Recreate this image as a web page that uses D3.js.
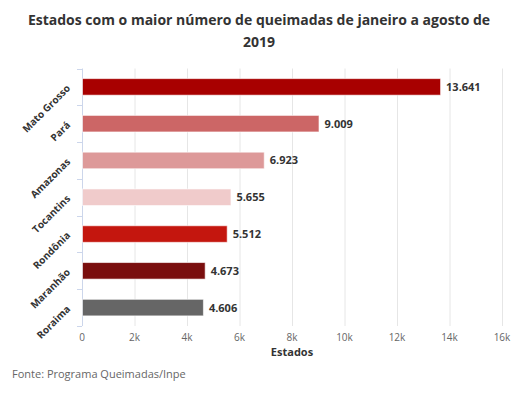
<!DOCTYPE html>
<html>
<head>
<meta charset="utf-8">
<script src="https://cdn.jsdelivr.net/npm/d3@7"></script>
<style>
  body { margin: 0; background: #fff; }
  svg { font-family: "Open Sans", sans-serif; display: block; }
</style>
</head>
<body>
<svg id="chart"></svg>
<script>
const states = ["Mato Grosso", "Pará", "Amazonas", "Tocantins", "Rondônia", "Maranhão", "Roraima"]
const fires = [13641, 9009, 6923, 5655, 5512, 4673, 4606]
const barColors = ["#a80000", "#cc6666", "#dd9999", "#f0cbcb", "#c4160e", "#7a0e0e", "#666666"]
const xTicks = [0, 2000, 4000, 6000, 8000, 10000, 12000, 14000, 16000]

const width = 518, height = 396
const margin = { top: 68.5, right: 16, bottom: 70, left: 82 }

const svg = d3.select("#chart")
  .attr("width", width)
  .attr("height", height)

// title
svg.append("text")
  .attr("x", width / 2)
  .attr("y", 25)
  .attr("text-anchor", "middle")
  .attr("font-size", 14)
  .attr("font-weight", "bold")
  .attr("fill", "#333")
  .selectAll("tspan")
  .data(["Estados com o maior número de queimadas de janeiro a agosto de", "2019"])
  .join("tspan")
  .attr("x", width / 2)
  .attr("dy", (d, i) => i ? 22 : 0)
  .text(d => d)

const x = d3.scaleLinear()
  .domain([0, 16000])
  .range([margin.left, width - margin.right])

const y = d3.scaleBand()
  .domain(states)
  .range([margin.top, height - margin.bottom])
  .paddingInner(0.55)
  .paddingOuter(0.275)

// vertical grid lines
svg.append("g")
  .selectAll("line")
  .data(xTicks.slice(1))
  .join("line")
  .attr("x1", d => x(d) + 0.5)
  .attr("x2", d => x(d) + 0.5)
  .attr("y1", margin.top)
  .attr("y2", height - margin.bottom)
  .attr("stroke", "#e6e6e6")

// y axis line + ticks
const yAxis = svg.append("g")
yAxis.append("line")
  .attr("x1", margin.left + 0.5)
  .attr("x2", margin.left + 0.5)
  .attr("y1", margin.top)
  .attr("y2", height - margin.bottom)
  .attr("stroke", "#ccd6eb")
const bounds = states.map(s => y(s) - y.step() * y.paddingInner() / 2)
bounds.push(height - margin.bottom)
yAxis.selectAll("line.tick")
  .data(bounds)
  .join("line")
  .attr("class", "tick")
  .attr("x1", margin.left - 5)
  .attr("x2", margin.left)
  .attr("y1", d => Math.round(d) + 0.5)
  .attr("y2", d => Math.round(d) + 0.5)
  .attr("stroke", "#ccd6eb")

yAxis.selectAll("text")
  .data(states)
  .join("text")
  .attr("transform", d => `translate(${margin.left - 11},${y(d) + y.bandwidth() / 2 + 2}) rotate(-45)`)
  .attr("text-anchor", "end")
  .attr("font-size", 10)
  .attr("font-weight", "bold")
  .attr("fill", "#333")
  .text(d => d)

// bars
svg.append("g")
  .selectAll("rect")
  .data(states)
  .join("rect")
  .attr("x", x(0) + 0.5)
  .attr("y", d => y(d))
  .attr("width", (d, i) => x(fires[i]) - x(0))
  .attr("height", y.bandwidth())
  .attr("fill", (d, i) => barColors[i])
  .attr("stroke", "#fff")
  .attr("stroke-opacity", 0.6)

// value labels
const fmt = d3.formatLocale({ decimal: ",", thousands: ".", grouping: [3] }).format(",")
svg.append("g")
  .selectAll("text")
  .data(states)
  .join("text")
  .attr("x", (d, i) => x(fires[i]) + 6)
  .attr("y", d => y(d) + y.bandwidth() / 2 + 4)
  .attr("font-size", 11)
  .attr("font-weight", "bold")
  .attr("fill", "#333")
  .text((d, i) => fmt(fires[i]))

// x axis labels
svg.append("g")
  .selectAll("text")
  .data(xTicks)
  .join("text")
  .attr("x", d => x(d))
  .attr("y", height - margin.bottom + 15)
  .attr("text-anchor", "middle")
  .attr("font-size", 10)
  .attr("fill", "#666")
  .text(d => d ? d / 1000 + "k" : "0")

svg.append("text")
  .attr("x", (x.range()[0] + x.range()[1]) / 2)
  .attr("y", height - margin.bottom + 30)
  .attr("text-anchor", "middle")
  .attr("font-size", 11)
  .attr("font-weight", "bold")
  .attr("fill", "#333")
  .text("Estados")

// source
svg.append("text")
  .attr("x", 12)
  .attr("y", 378)
  .attr("font-size", 11)
  .attr("fill", "#666")
  .text("Fonte: Programa Queimadas/Inpe")
</script>
</body>
</html>
